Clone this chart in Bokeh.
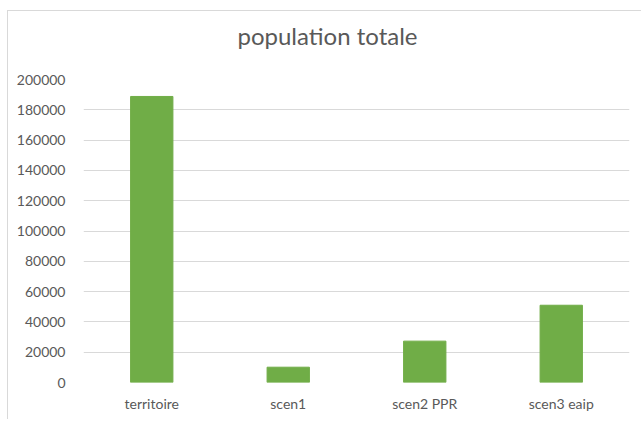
from bokeh.plotting import figure
from bokeh.models import Range1d, FixedTicker, BasicTickFormatter, LinearAxis
from bokeh.embed import file_html
from bokeh.resources import INLINE

# Population per scenario
categories = ["territoire", "scen1", "scen2 PPR", "scen3 eaip"]
population = [188800, 10100, 27300, 51000]
y_ticks = list(range(0, 200001, 20000))
chart_title = "population totale"

TEXT = "#595959"
GRID = "#d9d9d9"
BAR = "#70ad47"
FONT = "Lato"

# one slot per category along x
positions = list(range(len(categories)))

p = figure(
    x_range=Range1d(-0.5, len(categories) - 0.5),
    y_range=Range1d(0, 200000),
    width=634,
    height=409,
    output_backend="svg",
    toolbar_location=None,
    min_border_left=75,
    min_border_right=13,
    min_border_top=68,
    min_border_bottom=38,
)
# chart frame: grey edge on the left and top
p.margin = (10, 0, 0, 7)
p.styles = {"border-left": f"1px solid {GRID}", "border-top": f"1px solid {GRID}"}

p.vbar(x=positions, top=population, width=0.31, color=BAR)

# Title: a bare axis above the frame whose single label is the chart title,
# so it can sit centred over the whole chart instead of the plot frame
title_pos = 1.2875
title_axis = LinearAxis(
    ticker=FixedTicker(ticks=[title_pos]),
    major_label_overrides={title_pos: chart_title},
    axis_line_color=None,
    major_tick_line_color=None,
    minor_tick_line_color=None,
    major_label_standoff=24,
    major_label_text_font=FONT,
    major_label_text_font_size="24px",
    major_label_text_color=TEXT,
)
p.add_layout(title_axis, "above")

# Axes
x_axis = p.below[0]
y_axis = p.left[0]
x_axis.ticker = FixedTicker(ticks=positions)
x_axis.major_label_overrides = {i: c for i, c in zip(positions, categories)}
y_axis.ticker = FixedTicker(ticks=y_ticks)
y_axis.formatter = BasicTickFormatter(use_scientific=False)
for ax in (x_axis, y_axis):
    ax.axis_line_color = None
    ax.major_tick_line_color = None
    ax.minor_tick_line_color = None
    ax.major_label_text_font = FONT
    ax.major_label_text_font_size = "14px"
    ax.major_label_text_color = TEXT
y_axis.major_label_standoff = 12
x_axis.major_label_standoff = 6

p.xgrid.grid_line_color = None
p.ygrid.grid_line_color = GRID
p.ygrid.grid_line_width = 1
p.outline_line_color = None

open("out.html", "w").write(file_html(p, INLINE))
